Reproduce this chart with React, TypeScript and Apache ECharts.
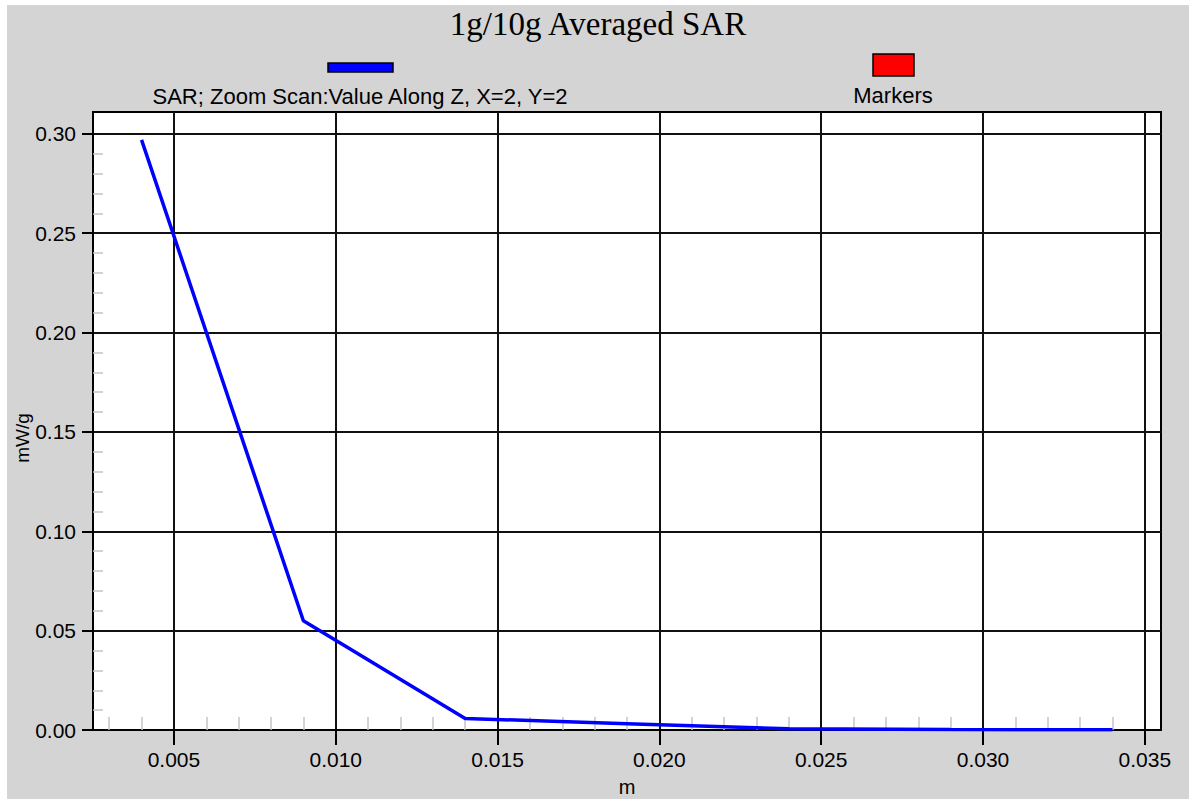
import React, { useEffect, useRef } from "react";
import * as echarts from "echarts";

const chartTitle = "1g/10g Averaged SAR";
const seriesName = "SAR; Zoom Scan:Value Along Z, X=2, Y=2";
const markerName = "Markers";
const xAxisName = "m";
const yAxisName = "mW/g";

const zPositions = [0.004, 0.009, 0.014, 0.019, 0.024, 0.029, 0.034];
const sarValues = [0.297, 0.055, 0.0058, 0.0032, 0.0006, 0.0002, 0.0001];

const xMajorTicks = [0.005, 0.01, 0.015, 0.02, 0.025, 0.03, 0.035];
const xMinorTicks = [
  0.003, 0.004, 0.006, 0.007, 0.008, 0.009, 0.011, 0.012, 0.013, 0.014,
  0.016, 0.017, 0.018, 0.019, 0.021, 0.022, 0.023, 0.024, 0.026, 0.027,
  0.028, 0.029, 0.031, 0.032, 0.033, 0.034,
];
const yMajorTicks = [0, 0.05, 0.1, 0.15, 0.2, 0.25, 0.3];
const yMinorTicks = [
  0.01, 0.02, 0.03, 0.04, 0.06, 0.07, 0.08, 0.09, 0.11, 0.12, 0.13, 0.14,
  0.16, 0.17, 0.18, 0.19, 0.21, 0.22, 0.23, 0.24, 0.26, 0.27, 0.28, 0.29,
];

const X_MIN = 0.0025;
const X_MAX = 0.0355;
const Y_MIN = 0;
const Y_MAX = 0.311;

const SANS = "'Liberation Sans', Arial, sans-serif";
const SERIF = "'Liberation Serif', 'Times New Roman', serif";

export default function App() {
  const ref = useRef<HTMLDivElement>(null);

  useEffect(() => {
    if (!ref.current) return;
    const chart = echarts.init(ref.current, null, { renderer: "svg" });
    const minorTickStyle = { color: "#c4c4c4", width: 1.5 };
    chart.setOption({
      animation: false,
      backgroundColor: "#d4d4d4",
      title: {
        text: chartTitle,
        left: "center",
        top: -3,
        textStyle: {
          fontFamily: SERIF,
          fontSize: 33,
          fontWeight: "normal",
          color: "#000",
        },
      },
      graphic: [
        {
          type: "rect",
          shape: { x: 321, y: 58, width: 65, height: 9 },
          style: { fill: "#0000ff", stroke: "#000", lineWidth: 1.5 },
        },
        {
          type: "text",
          x: 353,
          y: 91,
          style: {
            text: seriesName,
            fontFamily: SANS,
            fontSize: 22,
            fill: "#000",
            textAlign: "center",
            textVerticalAlign: "middle",
          },
        },
        {
          type: "rect",
          shape: { x: 866, y: 49, width: 41, height: 22 },
          style: { fill: "#ff0000", stroke: "#000", lineWidth: 1.5 },
        },
        {
          type: "text",
          x: 886,
          y: 90,
          style: {
            text: markerName,
            fontFamily: SANS,
            fontSize: 22,
            fill: "#000",
            textAlign: "center",
            textVerticalAlign: "middle",
          },
        },
        {
          type: "text",
          x: 15,
          y: 433,
          rotation: Math.PI / 2,
          style: {
            text: yAxisName,
            fontFamily: SANS,
            fontSize: 19,
            fill: "#000",
            textAlign: "center",
            textVerticalAlign: "middle",
          },
        },
      ],
      grid: {
        left: 86,
        top: 107,
        right: 28,
        bottom: 69,
        show: true,
        backgroundColor: "#ffffff",
        borderColor: "#000",
        borderWidth: 2,
        containLabel: false,
        outerBoundsMode: "none",
      },
      xAxis: [
        {
          type: "value",
          position: "bottom",
          min: X_MIN,
          max: X_MAX,
          name: xAxisName,
          nameLocation: "middle",
          nameGap: 47,
          nameTextStyle: { fontFamily: SANS, fontSize: 20, color: "#000" },
          axisLine: { show: true, lineStyle: { color: "#000", width: 2 } },
          axisTick: {
            show: true,
            inside: false,
            length: 15,
            customValues: xMajorTicks,
            lineStyle: { color: "#000", width: 2 },
          },
          axisLabel: {
            show: true,
            customValues: xMajorTicks,
            margin: 19,
            fontFamily: SANS,
            fontSize: 21,
            color: "#000",
            formatter: (v: number) => v.toFixed(3),
          },
          splitLine: { show: true, lineStyle: { color: "#111", width: 2 } },
        },
        {
          type: "value",
          position: "bottom",
          min: X_MIN,
          max: X_MAX,
          axisLine: { show: false },
          axisTick: {
            show: true,
            inside: true,
            length: 13,
            customValues: xMinorTicks,
            lineStyle: minorTickStyle,
          },
          axisLabel: { show: false },
          splitLine: { show: false },
        },
      ],
      yAxis: [
        {
          type: "value",
          position: "left",
          min: Y_MIN,
          max: Y_MAX,
          axisLine: { show: true, lineStyle: { color: "#000", width: 2 } },
          axisTick: {
            show: true,
            inside: false,
            length: 11,
            customValues: yMajorTicks,
            lineStyle: { color: "#000", width: 2 },
          },
          axisLabel: {
            show: true,
            customValues: yMajorTicks,
            margin: 17,
            fontFamily: SANS,
            fontSize: 21,
            color: "#000",
            formatter: (v: number) => v.toFixed(2),
          },
          splitLine: { show: true, lineStyle: { color: "#111", width: 2 } },
        },
        {
          type: "value",
          position: "left",
          min: Y_MIN,
          max: Y_MAX,
          axisLine: { show: false },
          axisTick: {
            show: true,
            inside: true,
            length: 10,
            customValues: yMinorTicks,
            lineStyle: minorTickStyle,
          },
          axisLabel: { show: false },
          splitLine: { show: false },
        },
      ],
      series: [
        {
          name: seriesName,
          type: "line",
          xAxisIndex: 0,
          yAxisIndex: 0,
          data: zPositions.map((x, i) => [x, sarValues[i]]),
          showSymbol: false,
          symbol: "none",
          lineStyle: { color: "#0000ff", width: 3.5 },
          z: 5,
        },
      ],
    });
    return () => chart.dispose();
  }, []);

  return (
    <div
      style={{
        position: "absolute",
        left: 0,
        top: 0,
        width: 1189,
        height: 799,
        background: "#ffffff",
        overflow: "hidden",
      }}
    >
      <div
        ref={ref}
        style={{ position: "absolute", left: 7, top: 5, width: 1182, height: 794 }}
      />
    </div>
  );
}
